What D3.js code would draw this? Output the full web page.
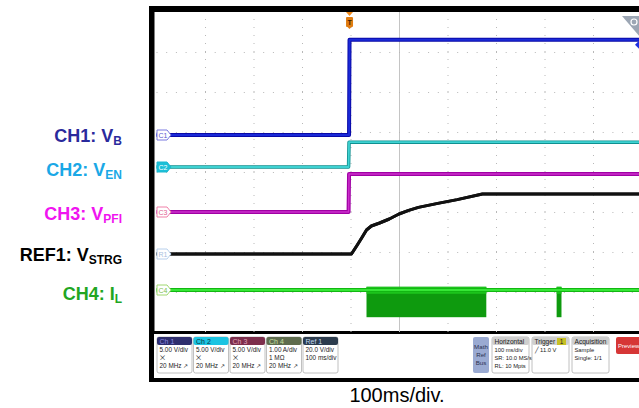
<!DOCTYPE html>
<html>
<head>
<meta charset="utf-8">
<script src="https://cdn.jsdelivr.net/npm/d3@7"></script>
<style>
  body { margin: 0; background: #fff; }
  svg { display: block; font-family: "Liberation Sans", Arial, sans-serif; }
  .narrow { font-family: "Liberation Sans Narrow", "Liberation Sans", Arial, sans-serif; }
</style>
</head>
<body>
<svg id="scope" width="639" height="408"></svg>
<script>
// time in ms, values in V (or A for CH4)
var ch1Time = [-500, -103, -102, 500];
var ch1Vals = [0, 0, 11.9, 11.9];
var ch2Time = [-500, -104, -103, 500];
var ch2Vals = [0, 0, 3.1, 3.1];
var ch3Time = [-500, -104, -103, 500];
var ch3Vals = [0, 0, 4.75, 4.75];
var refTime = [-500, -98, -86, -77, -67, -57, -40, -20, 0, 20, 40, 80, 120, 172, 500];
var refVals = [0, 0, 4.5, 8, 12, 14, 15.5, 17.5, 20, 21.8, 23.3, 25.3, 27.2, 30, 30];
// CH4 inductor current: baseline + switching bursts (envelope)
var ch4Time = [-500, 500];
var ch4Vals = [0, 0];
var ch4Bursts = [
  {t0: -67, t1: 180, lo: -0.68, hi: 0.08},
  {t0: 325, t1: 335, lo: -0.68, hi: 0.08}
];

var channels = ["CH1", "CH2", "CH3", "REF1", "CH4"];
var chSubs = ["B", "EN", "PFI", "STRG", "L"];
var chBase = ["V", "V", "V", "V", "I"];
var chTags = ["C1", "C2", "C3", "R1", "C4"];
var chDiv = [5, 5, 5, 20, 1];          // units per division
var chPos = [0.925, 0.125, -1.0, -2.05, -2.95]; // offset in divisions
var trigTime = -102;

var badgeNames = ["Ch 1", "Ch 2", "Ch 3", "Ch 4", "Ref 1"];
var badgeLines = [
  ["5.00 V/div", "\u2A09", "20 MHz \u2197"],
  ["5.00 V/div", "\u2A09", "20 MHz \u2197"],
  ["5.00 V/div", "\u2A09", "20 MHz \u2197"],
  ["1.00 A/div", "1 M\u03A9", "20 MHz \u2197"],
  ["20.0 V/div", "100 ms/div", ""]
];
var infoNames = ["Horizontal", "Trigger", "Acquisition"];
var infoLines = [
  ["100 ms/div", "SR: 10.0 MS/s", "RL: 10 Mpts"],
  ["\u2571      11.0 V", "", ""],
  ["Sample", "Single: 1/1", ""]
];

var svg = d3.select("#scope");
var PLOT = {left: 156.5, right: 641.5, top: 12, bottom: 332};

var x = d3.scaleLinear().domain([-500, 500]).range([PLOT.left, PLOT.right]);
var y = d3.scaleLinear().domain([-4, 4]).range([PLOT.bottom, PLOT.top]);

// frame
svg.append("rect").attr("x", 149).attr("y", 6).attr("width", 500).attr("height", 376).attr("fill", "#000");
svg.append("rect").attr("x", PLOT.left - 2).attr("y", PLOT.top).attr("width", 500).attr("height", PLOT.bottom - PLOT.top - 1).attr("fill", "#fff");
svg.append("rect").attr("x", 154).attr("y", 334).attr("width", 500).attr("height", 44).attr("fill", "#fff");

// graticule
var plotH = PLOT.bottom - PLOT.top;
var plotW = PLOT.right - PLOT.left;
var xAxis = d3.axisBottom(x).tickValues(d3.range(-400, 500, 100)).tickSize(-plotH).tickFormat("");
var yAxis = d3.axisLeft(y).tickValues(d3.range(-3, 4, 1)).tickSize(-plotW).tickFormat("");

var gx = svg.append("g").attr("class", "x grid")
  .attr("transform", "translate(0," + PLOT.bottom + ")").call(xAxis);
var gy = svg.append("g").attr("class", "y grid")
  .attr("transform", "translate(" + PLOT.left + ",0)").call(yAxis);
gx.select(".domain").remove();
gy.select(".domain").remove();
gx.selectAll("line").attr("stroke", "#b8b8b8").attr("stroke-width", 1).attr("stroke-dasharray", "1,7");
gy.selectAll("line").attr("stroke", "#b8b8b8").attr("stroke-width", 1).attr("stroke-dasharray", "1,8.7");
gx.selectAll("line").filter(function(d) { return d === 0; })
  .attr("stroke-dasharray", null).attr("stroke", "#c4c4c4");

function yOf(i) {
  return function(v) { return y(v / chDiv[i] + chPos[i]); };
}
function pts(ts, vs) {
  return ts.map(function(t, k) { return [t, vs[k]]; });
}

// CH4 bursts (drawn first, under baseline)
var y4 = yOf(4);
svg.append("g").selectAll("rect.burst").data(ch4Bursts).join("rect")
  .attr("x", function(d) { return x(d.t0); })
  .attr("y", function(d) { return y4(d.hi); })
  .attr("width", function(d) { return x(d.t1) - x(d.t0); })
  .attr("height", function(d) { return y4(d.lo) - y4(d.hi); })
  .attr("fill", "#0e9a0e");
svg.append("g").selectAll("rect.bright").data(ch4Bursts).join("rect")
  .attr("x", function(d) { return x(d.t0); })
  .attr("y", function(d) { return y4(d.hi); })
  .attr("width", function(d) { return x(d.t1) - x(d.t0); })
  .attr("height", 7)
  .attr("fill", "#1cc41c");

var traces = [
  {i: 4, data: pts(ch4Time, ch4Vals), colors: ["#12b812", "#36e636"], widths: [4, 2]},
  {i: 3, data: pts(refTime, refVals), colors: ["#111", "#111"], widths: [3, 3]},
  {i: 2, data: pts(ch3Time, ch3Vals), colors: ["#a000a4", "#cc30cc"], widths: [4, 1.5]},
  {i: 1, data: pts(ch2Time, ch2Vals), colors: ["#0f9090", "#3ed2d2"], widths: [3.5, 1.8]},
  {i: 0, data: pts(ch1Time, ch1Vals), colors: ["#0a0aa8", "#1a2ad8"], widths: [4, 2]}
];

traces.forEach(function(tr) {
  var fy = yOf(tr.i);
  var line = d3.line().x(function(d) { return x(d[0]); }).y(function(d) { return fy(d[1]); });
  tr.colors.forEach(function(c, k) {
    svg.append("path").datum(tr.data)
      .attr("fill", "none").attr("stroke", c)
      .attr("stroke-width", tr.widths[k])
      .attr("stroke-linejoin", "round")
      .attr("d", line);
  });
});

// channel tags on left edge
var tagStroke = ["#7a7ae0", "#1cb8d0", "#f080a8", "#b8d0ec", "#a0d870"];
var tagFill = ["#fff", "#1cc0d8", "#fff", "#fff", "#fff"];
var tagText = ["#5a5ad0", "#fff", "#e06090", "#a8c0e0", "#80c050"];
var tags = svg.append("g");
chTags.forEach(function(t, i) {
  var cy = yOf(i)(0);
  var x0 = PLOT.left + 0.5;
  tags.append("path")
    .attr("d", "M" + x0 + "," + (cy - 5) + "h10l4,5l-4,5h-10z")
    .attr("fill", tagFill[i]).attr("stroke", tagStroke[i]).attr("stroke-width", 1);
  tags.append("text").attr("x", x0 + 6).attr("y", cy + 2.5)
    .attr("text-anchor", "middle").attr("font-size", 7)
    .attr("fill", tagText[i]).text(t);
});

// trigger marker
var tx = x(trigTime);
svg.append("path").attr("d", "M" + (tx - 3.5) + ",12h7l-3.5,4z").attr("fill", "#f08a1c");
svg.append("rect").attr("x", tx - 3.5).attr("y", 17).attr("width", 7).attr("height", 10)
  .attr("rx", 1).attr("fill", "#e07c10");
svg.append("text").attr("x", tx).attr("y", 25).attr("text-anchor", "middle")
  .attr("font-size", 7).attr("font-weight", "bold").attr("fill", "#402000").text("T");
svg.append("path").attr("d", "M" + (tx - 2) + ",27h4l-2,2z").attr("fill", "#e07c10");

// top-right zoom icon and ch1 level arrow
svg.append("path").attr("d", "M622,16H640V37z").attr("fill", "#9ca6b4");
svg.append("circle").attr("cx", 634).attr("cy", 22).attr("r", 3).attr("fill", "none").attr("stroke", "#fff").attr("stroke-width", 1.2);
svg.append("path").attr("d", "M639," + (yOf(0)(11.9) + 1) + "l-4,4l4,4z").attr("fill", "#2030e0");

// left labels
var labelColors = ["#2a2a9c", "#1aa8e6", "#f014f0", "#000", "#22a622"];
var labelY = [142, 176, 220, 261, 300];
var labels = svg.append("g");
channels.forEach(function(c, i) {
  var t = labels.append("text").attr("x", 122).attr("y", labelY[i])
    .attr("text-anchor", "end").attr("font-size", 18).attr("font-weight", "bold")
    .attr("fill", labelColors[i]);
  t.append("tspan").text(c + ": " + chBase[i]);
  t.append("tspan").attr("font-size", 12).attr("dy", 3).text(chSubs[i]);
});

// info bar: channel badges
var badgeX = [157, 193.5, 230, 266.5, 303];
var badgeHead = ["#2e2e6e", "#1cc4e2", "#7c2e4c", "#5e6c4e", "#2c3c4e"];
var badgeHeadText = ["#8a8ae0", "#0b3040", "#e0a0b8", "#c8e0a0", "#c0d8f0"];
var bar = svg.append("g").attr("class", "narrow");
badgeNames.forEach(function(n, i) {
  var g = bar.append("g").attr("transform", "translate(" + badgeX[i] + ",337)");
  g.append("rect").attr("width", 35).attr("height", 36).attr("rx", 2)
    .attr("fill", "#fff").attr("stroke", "#b0b0b0").attr("stroke-width", 0.8);
  g.append("rect").attr("width", 35).attr("height", 8).attr("rx", 2).attr("fill", badgeHead[i]);
  g.append("text").attr("x", 2.5).attr("y", 6.8).attr("font-size", 7).attr("fill", badgeHeadText[i]).text(n);
  badgeLines[i].forEach(function(l, k) {
    g.append("text").attr("x", 2.5).attr("y", 15 + k * 8).attr("font-size", 6.4).attr("fill", "#222").text(l);
  });
});

// math/ref/bus button
var mg = bar.append("g").attr("transform", "translate(473,337)");
mg.append("rect").attr("width", 16).attr("height", 36).attr("rx", 2).attr("fill", "#9aaad2");
["Math", "Ref", "Bus"].forEach(function(s, k) {
  mg.append("text").attr("x", 8).attr("y", 12 + k * 8).attr("text-anchor", "middle")
    .attr("font-size", 6.2).attr("fill", "#2a3050").text(s);
});

// horizontal / trigger / acquisition boxes
var infoX = [492, 532, 572];
infoNames.forEach(function(n, i) {
  var g = bar.append("g").attr("transform", "translate(" + infoX[i] + ",337)");
  g.append("rect").attr("width", 37).attr("height", 36).attr("rx", 2)
    .attr("fill", "#fff").attr("stroke", "#b0b0b0").attr("stroke-width", 0.8);
  g.append("rect").attr("width", 37).attr("height", 8).attr("rx", 2).attr("fill", "#cfcfcf");
  g.append("text").attr("x", 2.5).attr("y", 6.8).attr("font-size", 6.6).attr("fill", "#222").text(n);
  infoLines[i].forEach(function(l, k) {
    g.append("text").attr("x", 2.5).attr("y", 15 + k * 8).attr("font-size", 5.8).attr("fill", "#222").text(l);
  });
});
var tb = bar.append("g").attr("transform", "translate(" + (infoX[1] + 25) + ",338)");
tb.append("rect").attr("width", 9).attr("height", 7).attr("fill", "#c8c024");
tb.append("text").attr("x", 4.5).attr("y", 6).attr("text-anchor", "middle").attr("font-size", 6.5).attr("fill", "#222").text("1");

// preview button
var pv = bar.append("g").attr("transform", "translate(616,337)");
pv.append("rect").attr("width", 40).attr("height", 17).attr("rx", 2).attr("fill", "#d63636");
pv.append("text").attr("x", 2).attr("y", 11).attr("font-size", 6).attr("fill", "#fff").text("Preview");

// caption
svg.append("text").attr("x", 397).attr("y", 402).attr("text-anchor", "middle")
  .attr("font-size", 20).attr("fill", "#000").text("100ms/div.");
</script>
</body>
</html>
